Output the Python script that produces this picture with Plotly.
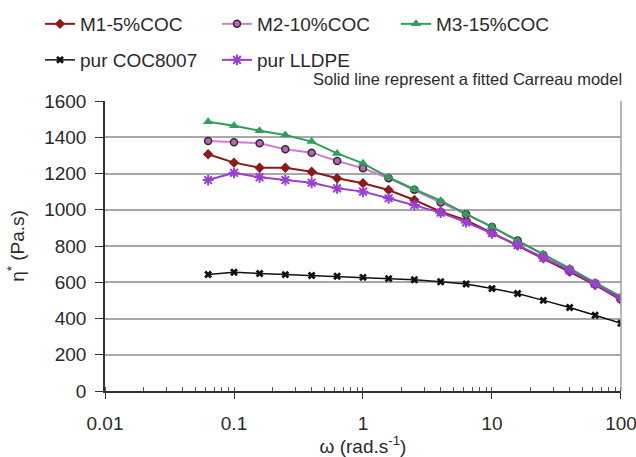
import plotly.graph_objects as go

omega = [0.063, 0.1, 0.158, 0.25, 0.4, 0.63, 1.0, 1.58, 2.5, 4.0, 6.3, 10.0, 15.8, 25.0, 40.0, 63.0, 100.0]

m1 = [1306, 1260, 1232, 1232, 1210, 1174, 1146, 1109, 1054, 989, 943, 872, 805, 734, 658, 585, 502]
m2 = [1379, 1372, 1367, 1334, 1315, 1269, 1229, 1174, 1110, 1040, 975, 905, 830, 750, 672, 595, 515]
m3 = [1486, 1464, 1436, 1412, 1376, 1311, 1256, 1179, 1113, 1050, 977, 906, 829, 756, 677, 598, 520]
coc = [643, 655, 648, 642, 637, 633, 627, 620, 614, 603, 590, 565, 538, 500, 461, 418, 374]
lldpe = [1164, 1204, 1179, 1164, 1149, 1118, 1100, 1063, 1026, 984, 930, 870, 805, 735, 665, 590, 510]

names = ["M1-5%COC", "M2-10%COC", "M3-15%COC", "pur COC8007", "pur LLDPE"]
x_ticks = [0.01, 0.1, 1, 10, 100]
x_ticktext = ["0.01", "0.1", "1", "10", "100"]

FONT = "Liberation Sans, Arial, sans-serif"
TXT = "#2a2a2a"

fig = go.Figure()

fig.add_trace(go.Scatter(x=omega, y=m1, name=names[0], mode="lines+markers",
                         line=dict(color="#8B1A1A", width=2),
                         marker=dict(symbol="diamond", size=8, color="#8B1A1A"),
                         legend="legend", showlegend=True))
fig.add_trace(go.Scatter(x=omega, y=m2, name=names[1], mode="lines+markers",
                         line=dict(color="#D27BD2", width=2),
                         marker=dict(symbol="circle", size=7, color="#C060C0",
                                     line=dict(color="#303030", width=1.5)),
                         legend="legend2", showlegend=True))
fig.add_trace(go.Scatter(x=omega, y=m3, name=names[2], mode="lines+markers",
                         line=dict(color="#2E9E58", width=2),
                         marker=dict(symbol="triangle-up", size=9, color="#2E9E58"),
                         legend="legend3", showlegend=True))
fig.add_trace(go.Scatter(x=omega, y=coc, name=names[3], mode="lines+markers",
                         line=dict(color="#111111", width=1.5),
                         marker=dict(symbol="x", size=7, color="#111111"),
                         legend="legend4", showlegend=True))
fig.add_trace(go.Scatter(x=omega, y=lldpe, name=names[4], mode="lines+markers",
                         line=dict(color="#9B3FD0", width=2),
                         marker=dict(symbol="asterisk-open", size=9,
                                     line=dict(color="#8A2BC0", width=2)),
                         legend="legend5", showlegend=True))

fig.add_shape(type="line", xref="paper", yref="paper", x0=1, x1=1, y0=0, y1=1,
              line=dict(color="#A0A0A0", width=1.5))

fig.add_annotation(text="Solid line represent a fitted Carreau model",
                   xref="paper", yref="paper", x=1.0, y=(391 - 79) / 290, xshift=3,
                   xanchor="right", yanchor="middle", showarrow=False,
                   font=dict(size=16.5, color=TXT, family=FONT))


def leg(xpx, ypx):
    return dict(orientation="h", xref="container", yref="container",
                x=xpx / 636, y=1 - ypx / 457, xanchor="left", yanchor="middle",
                itemwidth=30, font=dict(size=19, color=TXT, family=FONT),
                bgcolor="rgba(0,0,0,0)")


fig.update_layout(
    width=636, height=457,
    showlegend=True,
    margin=dict(l=105, r=15, t=101, b=66, autoexpand=False),
    paper_bgcolor="white", plot_bgcolor="white",
    font=dict(family=FONT, color=TXT),
    legend=leg(40, 24),
    legend2=leg(217, 24),
    legend3=leg(396, 24),
    legend4=leg(40, 60),
    legend5=leg(217, 60),
    xaxis=dict(type="log", range=[-2, 2.0001], showgrid=False, zeroline=False,
               automargin=False,
               showline=True, linecolor="#333333", linewidth=1.5,
               ticks="outside", ticklen=6, tickcolor="#333333",
               tickvals=x_ticks, ticktext=x_ticktext,
               ticklabeloverflow="allow", ticklabelstandoff=8,
               tickfont=dict(size=19, color=TXT),
               minor=dict(ticks="inside", ticklen=4, tickcolor="#555555", dtick="D1"),
               title=dict(text="ω (rad.s<sup>-1</sup>)", font=dict(size=19, color=TXT),
                          standoff=7)),
    yaxis=dict(range=[0, 1600], dtick=200, showgrid=True, gridcolor="#A8A8A8", gridwidth=1.5,
               automargin=False,
               zeroline=False, showline=True, linecolor="#333333", linewidth=1.5,
               ticks="outside", ticklen=8, tickcolor="#333333", ticklabelstandoff=5,
               tickfont=dict(size=19, color=TXT),
               title=dict(text="η<sup>*</sup> (Pa.s)", font=dict(size=19, color=TXT),
                          standoff=15)),
)

fig.write_html("out.html")
